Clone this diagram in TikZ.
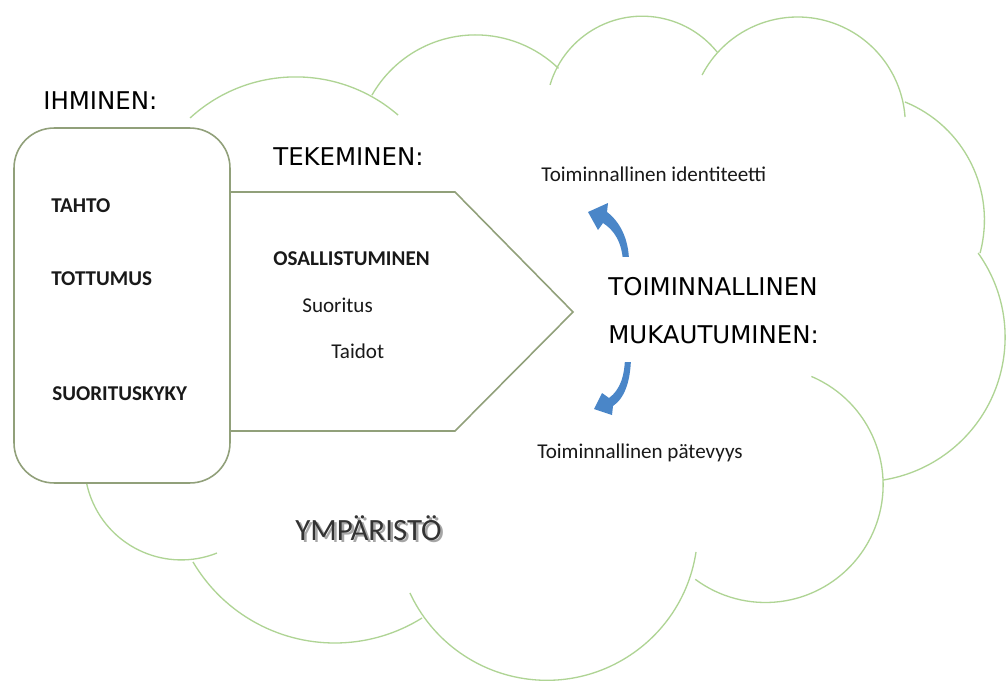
\documentclass[tikz,border=0pt]{standalone}
\usepackage{fontspec}
\setmainfont{Carlito}
\newfontfamily\tahoma{DejaVu Sans}
\definecolor{cloudgreen}{RGB}{175,212,148}
\definecolor{boxgray}{RGB}{145,160,122}
\definecolor{arrowblue}{RGB}{74,134,200}
\definecolor{txt}{RGB}{25,25,25}
\begin{document}
\begin{tikzpicture}[x=0.02cm,y=-0.02cm,
  cloudline/.style={draw=cloudgreen, line width=0.75pt},
  boxline/.style={draw=boxgray, line width=0.9pt, fill=white},
  headtext/.style={font=\tahoma\fontsize{13.9}{16}\selectfont, inner sep=0pt, anchor=base west},
  boldtext/.style={font=\bfseries\fontsize{12}{14}\selectfont, inner sep=0pt, anchor=base west, text=txt},
  plaintext/.style={font=\fontsize{12}{14}\selectfont, inner sep=0pt, anchor=base west, text=txt},
  arrowshape/.style={fill=arrowblue, draw=none}]
\useasboundingbox (0,0) rectangle (1006,682);
\fill[white] (0,0) rectangle (1006,682);

% cloud (YMPARISTO)
\draw[cloudline] (295.7,233.3) ++(-132.5:156.4) arc[start angle=-132.5, end angle=-49.1, radius=156.4];
\draw[cloudline] (475.6,154.2) ++(-150.3:119.3) arc[start angle=-150.3, end angle=-46, radius=119.3];
\draw[cloudline] (642.2,112.4) ++(-163.4:96.2) arc[start angle=-163.4, end angle=-38.9, radius=96.2];
\draw[cloudline] (797.6,124.7) ++(-152.5:107.7) arc[start angle=-152.5, end angle=-4.1, radius=107.7];
\draw[cloudline] (857,220) ++(-67.9:127.4) arc[start angle=-67.9, end angle=15, radius=127.4];
\draw[cloudline] (860.5,337.2) ++(-35.6:144.6) arc[start angle=-35.6, end angle=81, radius=144.6];
\draw[cloudline] (765.4,484.8) ++(-67:117.7) arc[start angle=-67, end angle=126.6, radius=117.7];
\draw[cloudline] (546.8,529.4) ++(8.6:150.9) arc[start angle=8.6, end angle=155.1, radius=150.9];
\draw[cloudline] (334.8,478.4) ++(58:164.6) arc[start angle=58, end angle=149.5, radius=164.6];
\draw[cloudline] (181.2,463.2) ++(68.3:96.7) arc[start angle=68.3, end angle=190, radius=96.7];

% TEKEMINEN pentagon
\coordinate (p1) at (200,192);
\coordinate (p2) at (455,192);
\coordinate (p3) at (573,312);
\coordinate (p4) at (455,431);
\coordinate (p5) at (200,431);
\draw[boxline] (p1) -- (p2) -- (p3) -- (p4) -- (p5) -- cycle;

% IHMINEN box
\node[boxline, rounded corners=0.8cm, minimum width=4.32cm, minimum height=7.1cm, inner sep=0pt] (ihminen) at (122,305.5) {};

% curved arrows
\path[arrowshape] (623,262) .. controls (622,242) and (614,230) .. (603,223)
  -- (598,230) -- (588,212) -- (608,203) -- (607,212)
  .. controls (619,221) and (629,238) .. (629,262) -- cycle;
\path[arrowshape] (625,355) .. controls (625,376) and (620,390) .. (609,398)
  -- (602,393) -- (594,409) -- (612,415) -- (613,406)
  .. controls (625,398) and (631,380) .. (631,355) -- cycle;

% white label box
\node[fill=white, minimum width=7.84cm, minimum height=2.1cm, inner sep=0pt] (mukbox) at (784,309.5) {};

% headings
\node[headtext] (ihm) at (43,110) {IHMINEN:};
\node[headtext] (tek) at (273,166) {TEKEMINEN:};
\node[headtext] (toim) at (608,295) {TOIMINNALLINEN};
\node[headtext] (muk) at (608,343) {MUKAUTUMINEN:};

% person
\node[boldtext] (tahto) at (51,213) {TAHTO};
\node[boldtext] (tottumus) at (51,285) {TOTTUMUS};
\node[boldtext] (suorkyky) at (52,400) {SUORITUSKYKY};

% doing
\node[boldtext] (osall) at (273,265) {OSALLISTUMINEN};
\node[plaintext] (suor) at (302,312) {Suoritus};
\node[plaintext] (taidot) at (331,358) {Taidot};

% outcomes
\node[plaintext] (ident) at (541,181) {Toiminnallinen identiteetti};
\node[plaintext] (patev) at (537,458) {Toiminnallinen pätevyys};

% environment
\node[font=\fontsize{17.6}{20}\selectfont, inner sep=0pt, anchor=base west, text=black!35] (ympshadow) at (297.5,542.5) {YMPÄRISTÖ};
\node[font=\fontsize{17.6}{20}\selectfont, inner sep=0pt, anchor=base west, text=black!80] (ymp) at (295,540) {YMPÄRISTÖ};
\end{tikzpicture}
\end{document}
